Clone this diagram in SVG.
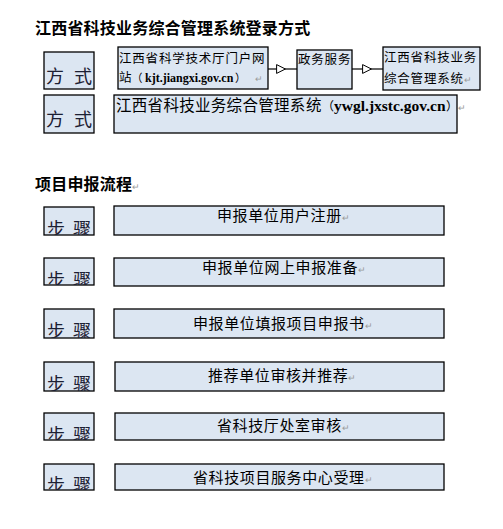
<svg xmlns="http://www.w3.org/2000/svg" width="503" height="529" viewBox="0 0 503 529">
<defs>
<style>
.box{fill:#dce6f2;stroke:#000;stroke-width:1.3}
text{font-family:"Noto Sans CJK SC","Noto Sans CJK TC",sans-serif;fill:#000}
.lat{font-family:"Liberation Serif","Noto Sans CJK SC",serif;font-weight:bold}
.mark{fill:#9a9a9a;font-size:9px}
.title{font-weight:bold;font-size:16px;letter-spacing:0.2px}
.lbl{fill:#1c2033;font-size:18px}
.small{font-size:12.5px;letter-spacing:0.8px}
.step{font-size:15px;letter-spacing:0.6px}
.conn{fill:none;stroke:#000;stroke-width:1.2}
</style>
<marker id="tri" viewBox="0 0 10 10" refX="5" refY="5" markerWidth="10" markerHeight="10" markerUnits="userSpaceOnUse" orient="auto">
<path d="M0.6,0.6 L9.4,5 L0.6,9.4 Z" fill="#fff" stroke="#000" stroke-width="1"/>
</marker>
</defs>
<rect width="503" height="529" fill="#fff"/>

<text id="title1" class="title" x="35" y="34">江西省科技业务综合管理系统登录方式</text>

<g id="way1">
<rect class="box" x="44" y="52" width="50" height="37"/>
<text class="lbl" y="83"><tspan x="46">方</tspan><tspan x="74">式</tspan></text>
</g>
<g id="portal">
<rect class="box" x="118" y="47" width="150" height="42"/>
<text class="small" x="119" y="63">江西省科学技术厅门户网</text>
<text class="small" y="82"><tspan x="119" letter-spacing="0">站</tspan><tspan x="131.5" font-size="11" letter-spacing="0">（</tspan><tspan class="lat" x="145" font-size="12" letter-spacing="0">kjt.jiangxi.gov.cn</tspan><tspan x="235" font-size="11" letter-spacing="0">）</tspan><tspan class="mark" x="255">↵</tspan></text>
</g>
<g id="gov">
<rect class="box" x="297" y="50" width="55" height="39"/>
<text class="small" x="298" y="64">政务服务</text>
</g>
<g id="system">
<rect class="box" x="383" y="47" width="97" height="43"/>
<text class="small" x="384" y="62">江西省科技业务</text>
<text class="small" x="384" y="83">综合管理系统<tspan class="mark">↵</tspan></text>
</g>
<g id="way2">
<rect class="box" x="44" y="95" width="50" height="38"/>
<text class="lbl" y="126"><tspan x="46">方</tspan><tspan x="74">式</tspan></text>
</g>
<g id="system2">
<rect class="box" x="114" y="95" width="343" height="38"/>
<text y="111" font-size="15.5"><tspan x="116" letter-spacing="0.3">江西省科技业务综合管理系</tspan><tspan x="306">统</tspan><tspan x="322" font-size="12">（</tspan><tspan class="lat" x="334" font-size="15.5">ywgl.jxstc.gov.cn</tspan><tspan x="446" font-size="12">）</tspan><tspan class="mark" x="458">↵</tspan></text>
</g>

<g id="connectors">
<path class="conn" d="M268,69 L281,69 L297,69" marker-mid="url(#tri)"/>
<path class="conn" d="M352,69 L367,69 L383,69" marker-mid="url(#tri)"/>
</g>

<text id="title2" class="title" x="35" y="190">项目申报流程<tspan class="mark" font-weight="normal">↵</tspan></text>

<g id="step1">
<rect class="box" x="44" y="207" width="50" height="28"/>
<svg x="44" y="207" width="50" height="28"><text class="lbl" font-size="19" y="29"><tspan x="3">步</tspan><tspan x="29">骤</tspan></text></svg>
<rect class="box" x="114" y="206" width="330" height="29"/>
<text class="step" x="217" y="221">申报单位用户注册<tspan class="mark">↵</tspan></text>
</g>
<g id="step2">
<rect class="box" x="44" y="258" width="50" height="27"/>
<svg x="44" y="258" width="50" height="27"><text class="lbl" font-size="19" y="29"><tspan x="3">步</tspan><tspan x="29">骤</tspan></text></svg>
<rect class="box" x="114" y="258" width="330" height="28"/>
<text class="step" x="202" y="273">申报单位网上申报准备<tspan class="mark">↵</tspan></text>
</g>
<g id="step3">
<rect class="box" x="44" y="309" width="50" height="29"/>
<svg x="44" y="309" width="50" height="29"><text class="lbl" font-size="19" y="29"><tspan x="3">步</tspan><tspan x="29">骤</tspan></text></svg>
<rect class="box" x="114" y="309" width="330" height="29"/>
<text class="step" x="193" y="329">申报单位填报项目申报书<tspan class="mark">↵</tspan></text>
</g>
<g id="step4">
<rect class="box" x="44" y="362" width="50" height="29"/>
<svg x="44" y="362" width="50" height="29"><text class="lbl" font-size="19" y="29"><tspan x="3">步</tspan><tspan x="29">骤</tspan></text></svg>
<rect class="box" x="115" y="362" width="329" height="29"/>
<text class="step" x="208" y="381">推荐单位审核并推荐<tspan class="mark">↵</tspan></text>
</g>
<g id="step5">
<rect class="box" x="44" y="413" width="50" height="27"/>
<svg x="44" y="413" width="50" height="27"><text class="lbl" font-size="19" y="29"><tspan x="3">步</tspan><tspan x="29">骤</tspan></text></svg>
<rect class="box" x="115" y="413" width="329" height="27"/>
<text class="step" x="217" y="431">省科技厅处室审核<tspan class="mark">↵</tspan></text>
</g>
<g id="step6">
<rect class="box" x="44" y="464" width="50" height="26"/>
<svg x="44" y="464" width="50" height="26"><text class="lbl" font-size="19" y="28"><tspan x="3">步</tspan><tspan x="29">骤</tspan></text></svg>
<rect class="box" x="115" y="464" width="329" height="26"/>
<text class="step" x="193" y="483">省科技项目服务中心受理<tspan class="mark">↵</tspan></text>
</g>
</svg>
